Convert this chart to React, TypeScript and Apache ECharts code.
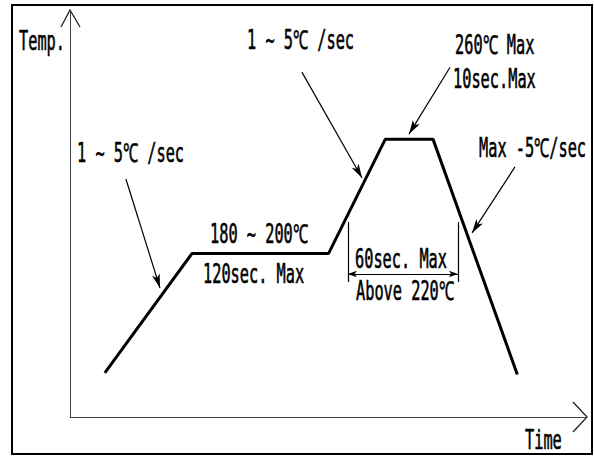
import React, { useEffect, useRef } from "react";
import * as echarts from "echarts";

// Reflow profile (time in sec, temperature in °C) – schematic values
const profileTime = [19, 66.5, 141, 172, 198, 244];
const profileTemp = [117, 190, 190, 260, 260, 116];

// Axis extents
const timeMin = 0;
const timeMax = 282;
const tempMin = 90;
const tempMax = 339;

// Leader lines: [startTime, startTemp, endTime, endTemp]
const leaderFrom = [
  [126.5, 301],
  [207.3, 304],
  [242.7, 243],
  [30.5, 235.6],
];
const leaderTo = [
  [159.3, 236.2],
  [184.9, 263.1],
  [219.3, 202.6],
  [49.1, 168.9],
];

// "60sec. Max" dimension
const dimTimes = [151.6, 211.6];
const dimTempTop = 209.3;
const dimTempBottom = 172.6;
const dimTempLevel = 177.5;

// Texts
const axisNames = ["Temp.", "Time"];
const notes = [
  "1 ~ 5℃ /sec",
  "260℃ Max",
  "10sec.Max",
  "Max -5℃/sec",
  "1 ~ 5℃ /sec",
  "180 ~ 200℃",
  "120sec. Max",
  "60sec. Max",
  "Above 220℃",
];

const FONT_FAMILY = "'DejaVu Sans Mono', 'Liberation Mono', monospace";
const FONT_SIZE = 26;
const SCALE_X = 0.588;

function txt(text: string, x: number, y: number) {
  return {
    type: "text",
    x,
    y,
    scaleX: SCALE_X,
    silent: true,
    style: {
      text,
      fill: "#000",
      fontFamily: FONT_FAMILY,
      fontSize: FONT_SIZE,
      fontWeight: "normal",
      stroke: "#000",
      lineWidth: 0.6,
      align: "left",
      verticalAlign: "middle",
    },
  };
}

export default function App() {
  const ref = useRef<HTMLDivElement>(null);

  useEffect(() => {
    document.body.style.margin = "0";
    if (!ref.current) return;
    const chart = echarts.init(ref.current, null, { renderer: "svg" });

    const leaderData = leaderFrom.map((f, i) => [
      { coord: f, symbol: "none" },
      { coord: leaderTo[i], symbol: "arrow", symbolSize: [6, 14] },
    ]);
    const extData = dimTimes.map((t) => [
      { coord: [t, dimTempTop], symbol: "none" },
      { coord: [t, dimTempBottom], symbol: "none" },
    ]);
    const dimData = [
      [
        { coord: [dimTimes[0], dimTempLevel], symbol: "arrow", symbolSize: [5, 9] },
        { coord: [dimTimes[1], dimTempLevel], symbol: "arrow", symbolSize: [5, 9] },
      ],
    ];

    const axisLine = {
      show: true,
      onZero: false,
      lineStyle: { color: "#444", width: 1 },
    };

    chart.setOption({
      animation: false,
      backgroundColor: "#fff",
      grid: { left: 70, top: 10, right: 7, bottom: 39 },
      xAxis: {
        type: "value",
        min: timeMin,
        max: timeMax,
        axisLine,
        axisTick: { show: false },
        axisLabel: { show: false },
        splitLine: { show: false },
      },
      yAxis: {
        type: "value",
        min: tempMin,
        max: tempMax,
        axisLine,
        axisTick: { show: false },
        axisLabel: { show: false },
        splitLine: { show: false },
      },
      series: [
        {
          type: "line",
          data: profileTime.map((t, i) => [t, profileTemp[i]]),
          symbol: "none",
          silent: true,
          lineStyle: { color: "#000", width: 3 },
          markLine: {
            silent: true,
            animation: false,
            label: { show: false },
            emphasis: { disabled: true },
            lineStyle: { color: "#000", width: 1.2, type: "solid" },
            data: [...leaderData, ...extData, ...dimData],
          },
        },
      ],
      graphic: [
        {
          type: "rect",
          silent: true,
          shape: { x: 12, y: 5, width: 580, height: 449 },
          style: { fill: "none", stroke: "#000", lineWidth: 2 },
        },
        {
          type: "polyline",
          silent: true,
          shape: { points: [[61, 27], [70, 10], [80, 27]] },
          style: { fill: "none", stroke: "#222", lineWidth: 1.3 },
        },
        {
          type: "polyline",
          silent: true,
          shape: { points: [[573, 402], [587, 417], [573, 432]] },
          style: { fill: "none", stroke: "#222", lineWidth: 1.3 },
        },
        txt(axisNames[0], 19, 40.5),
        txt(axisNames[1], 525, 440),
        txt(notes[0], 247, 40),
        txt(notes[1], 455, 44.5),
        txt(notes[2], 453, 78.5),
        txt(notes[3], 479, 147.5),
        txt(notes[4], 77, 153),
        txt(notes[5], 210, 233.5),
        txt(notes[6], 203, 274),
        txt(notes[7], 355, 259),
        txt(notes[8], 356, 291),
      ],
    });

    return () => chart.dispose();
  }, []);

  return <div ref={ref} style={{ width: 594, height: 456 }} />;
}
